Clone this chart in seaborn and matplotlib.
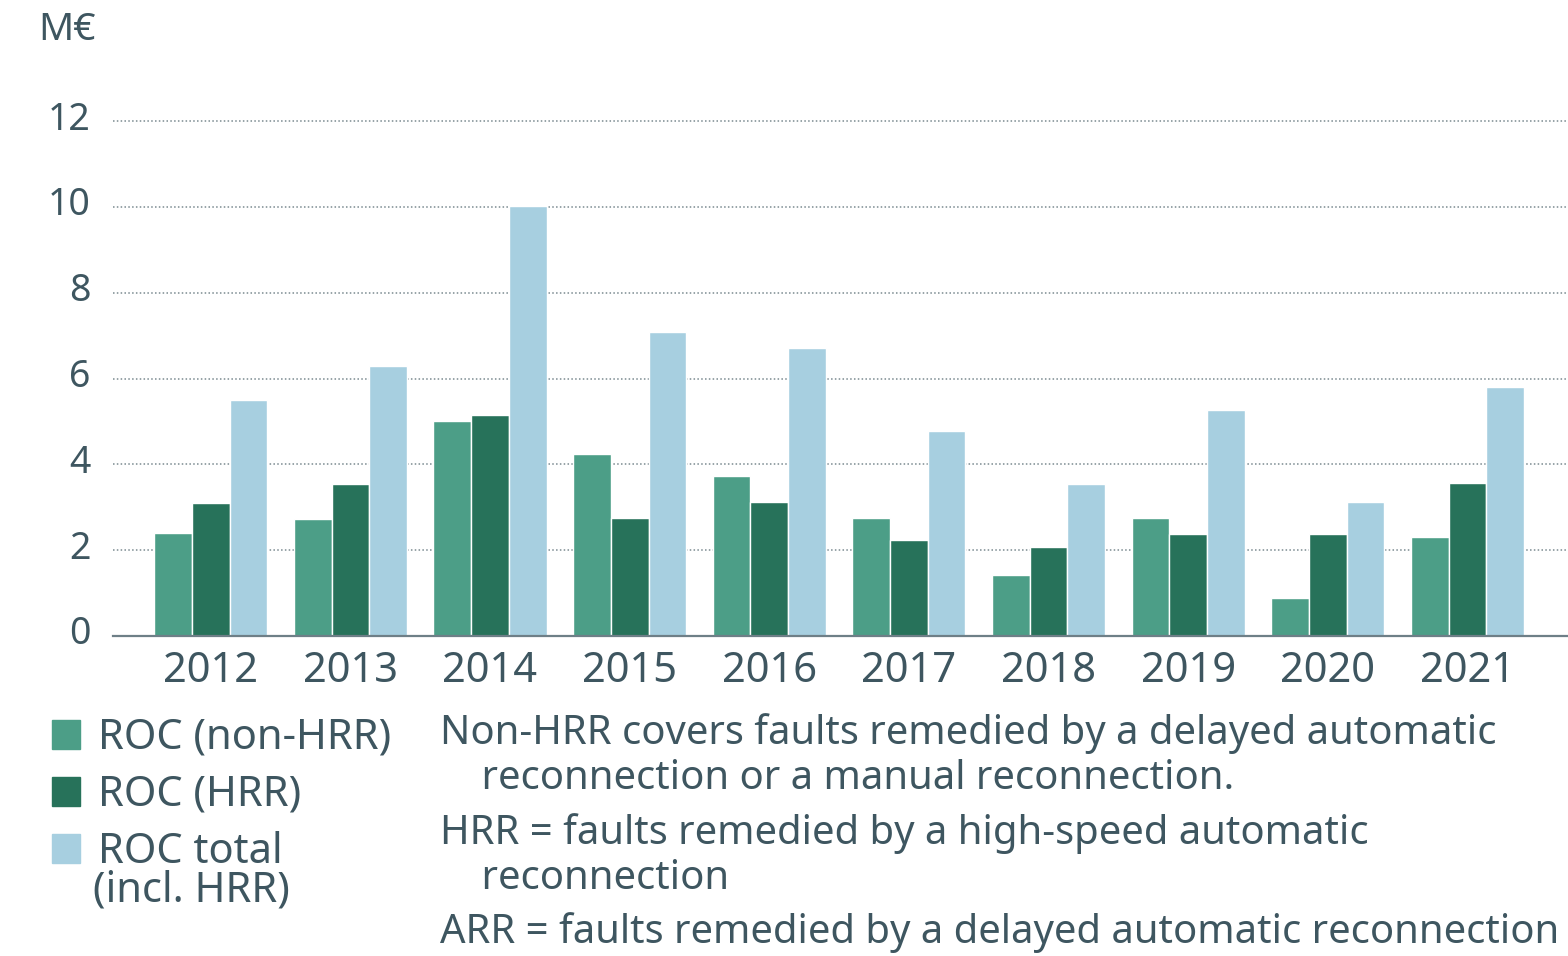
import matplotlib
matplotlib.use("Agg")
import matplotlib.pyplot as plt
import matplotlib.patches as mpatches
import matplotlib.transforms as mtransforms
import pandas as pd
import seaborn as sns

years = ["2012", "2013", "2014", "2015", "2016", "2017", "2018", "2019", "2020", "2021"]
roc_non_hrr = [2.40, 2.73, 5.01, 4.24, 3.73, 2.75, 1.42, 2.75, 0.89, 2.31]
roc_hrr = [3.10, 3.54, 5.15, 2.75, 3.12, 2.24, 2.07, 2.38, 2.38, 3.57]
roc_total = [5.50, 6.29, 10.02, 7.09, 6.71, 4.78, 3.54, 5.27, 3.12, 5.80]
series = ["ROC (non-HRR)", "ROC (HRR)", "ROC total"]
total_suffix = "(incl. HRR)"
colors = ["#4c9e87", "#27725a", "#a7cfe0"]
notes = [
    "Non-HRR covers faults remedied by a delayed automatic\n    reconnection or a manual reconnection.",
    "HRR = faults remedied by a high-speed automatic\n    reconnection",
    "ARR = faults remedied by a delayed automatic reconnection",
]

df = pd.DataFrame({
    "year": years * 3,
    "value": roc_non_hrr + roc_hrr + roc_total,
    "series": [s for s in series for _ in years],
})

sns.set_style("white")
plt.rcParams["font.family"] = ["Noto Sans", "DejaVu Sans"]
txt = "#3e5660"

fig = plt.figure(figsize=(15.68, 9.56), dpi=100)
ymax = 12.2
px_per_unit = (636 - 121) / 12
top = 636 - ymax * px_per_unit
ax = fig.add_axes([113 / 1568, 1 - 636 / 956, (1568 - 113) / 1568, (636 - top) / 956])

sns.barplot(data=df, x="year", y="value", hue="series", palette=colors,
            width=0.81, saturation=1, ax=ax, legend=False)

ax.set_ylim(0, ymax)
ax.set_xlim(-0.70, 9.72)
ax.set_yticks(range(0, 13, 2))
for yv in range(2, 13, 2):
    ax.axhline(yv, color="#7a8a90", lw=1.1, ls=(0, (1, 1.5)), zorder=0)
ax.set_axisbelow(True)

for s in ["top", "right", "left"]:
    ax.spines[s].set_visible(False)
ax.spines["bottom"].set_color("#6e7f87")
ax.spines["bottom"].set_linewidth(1.6)

ax.tick_params(axis="both", length=0, colors=txt)
ax.tick_params(axis="x", labelsize=30, pad=10)
ax.tick_params(axis="y", labelsize=27, pad=16)
ax.set_xlabel("")
ax.set_ylabel("")
shift = mtransforms.ScaledTranslation(0, 6 / 100, fig.dpi_scale_trans)
for lbl in ax.get_yticklabels():
    lbl.set_transform(lbl.get_transform() + shift)

fig.text(38 / 1568, 1 - 30 / 956, "M€", fontsize=28, color=txt, va="center", ha="left")

handles = [mpatches.Patch(color=c, label=s) for c, s in zip(colors, series)]
leg = fig.legend(handles=handles, loc="upper left", bbox_to_anchor=(35 / 1568, 1 - 700 / 956),
                 frameon=False, fontsize=30, handlelength=0.69, handleheight=0.69,
                 handletextpad=0.43, labelspacing=0.36, labelcolor=txt, borderaxespad=0)
fig.text(93 / 1568, 1 - 890 / 956, total_suffix, fontsize=30, color=txt,
         va="center", ha="left")

note_y = [734, 834, 933]
for yy, n in zip(note_y, notes):
    fig.text(440 / 1568, 1 - yy / 956, n.split("\n")[0], fontsize=28.8, color=txt,
             va="center", ha="left")
    if "\n" in n:
        fig.text(440 / 1568, 1 - (yy + 45) / 956, n.split("\n")[1], fontsize=28.8,
                 color=txt, va="center", ha="left")

fig.savefig("out.png", dpi=100)
